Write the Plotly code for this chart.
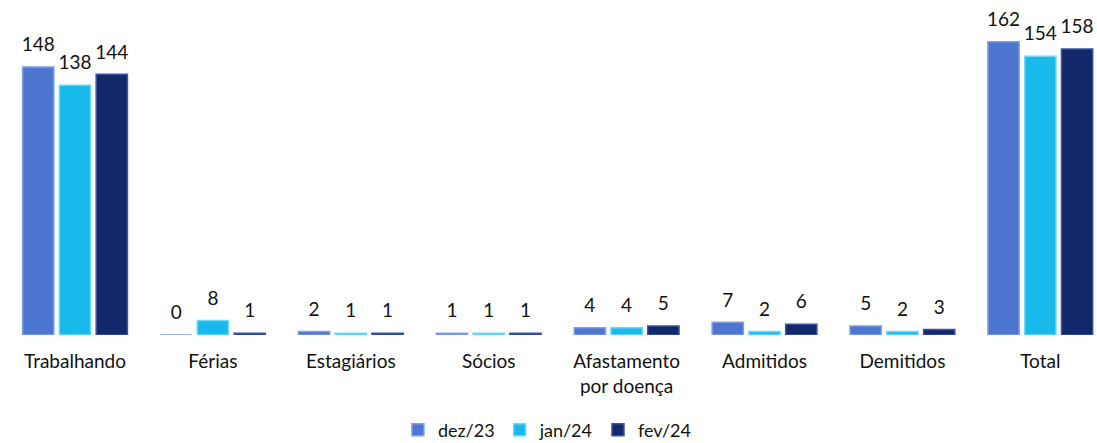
import plotly.graph_objects as go

categories = ["Trabalhando", "Férias", "Estagiários", "Sócios",
              "Afastamento<br>por doença", "Admitidos", "Demitidos", "Total"]
dez23 = [148, 0, 2, 1, 4, 7, 5, 162]
jan24 = [138, 8, 1, 1, 4, 2, 2, 154]
fev24 = [144, 1, 1, 1, 5, 6, 3, 158]

SERIES = [
    ("dez/23", dez23, "#4C76D0", "#7FA0E6"),
    ("jan/24", jan24, "#18BAEC", "#6FD8F8"),
    ("fev/24", fev24, "#13286A", "#3A56A0"),
]

FONT = "Lato, sans-serif"

fig = go.Figure()
for i, (name, vals, color, edge) in enumerate(SERIES):
    fig.add_trace(go.Bar(
        name=name,
        x=categories,
        y=vals,
        offsetgroup=str(i),
        marker=dict(color=color, line=dict(color=edge, width=1.5)),
    ))
    # value labels, lifted above the bar tops
    fig.add_trace(go.Scatter(
        x=categories,
        y=vals,
        offsetgroup=str(i),
        mode="text+markers",
        marker=dict(size=16, opacity=0),
        text=[str(v) for v in vals],
        textposition="top center",
        textfont=dict(size=19, color="#111111", family=FONT),
        showlegend=False,
        hoverinfo="skip",
        cliponaxis=False,
    ))

fig.update_layout(
    barmode="group",
    scattermode="group",
    bargap=0.2,
    bargroupgap=0.15,
    scattergap=0.2,
    width=1097,
    height=443,
    font=dict(family=FONT, size=19, color="#111111"),
    paper_bgcolor="white",
    plot_bgcolor="white",
    margin=dict(l=0, r=0, t=20, b=108, autoexpand=False),
    legend=dict(orientation="h", x=0.499, xanchor="center", xref="container",
                y=0.029, yanchor="middle", yref="container",
                font=dict(size=18), itemwidth=30),
)
fig.update_xaxes(showline=False, ticks="", tickfont=dict(size=19),
                 ticklabelstandoff=13, range=[-0.544, 7.411])
fig.update_yaxes(visible=False, range=[0, 174], showgrid=False)

# drop the default 8px body margin so the figure fills the window exactly
fig.write_html("out.html",
               config={"displayModeBar": False},
               post_script="document.body.style.margin='0';document.body.style.overflow='hidden';")
